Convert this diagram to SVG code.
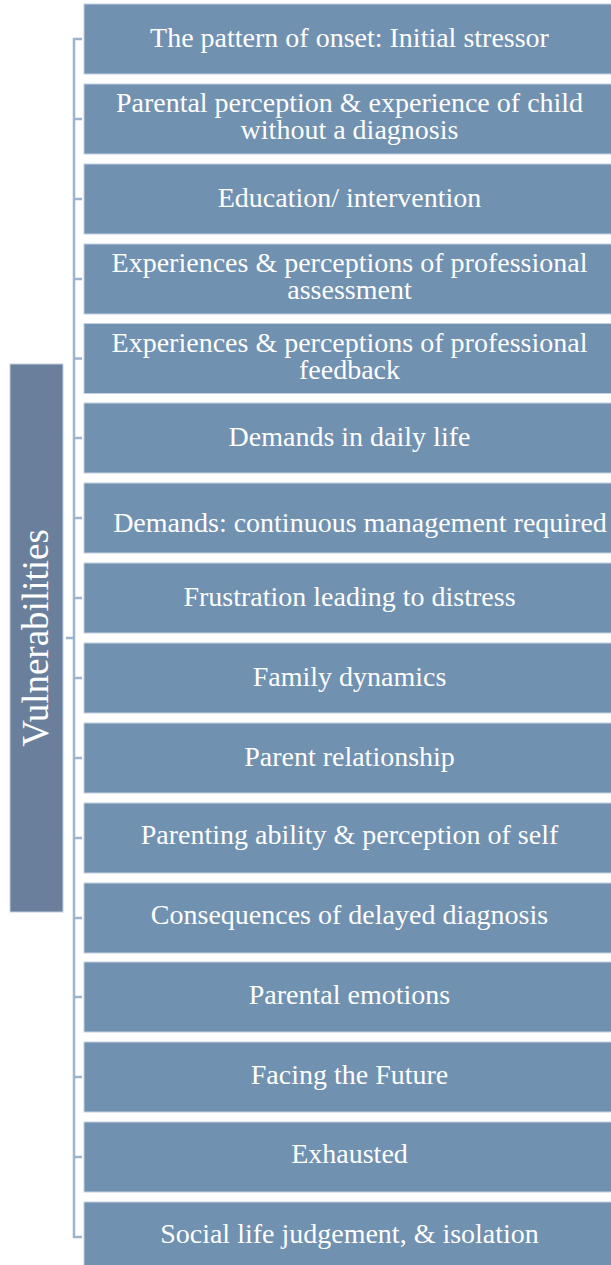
<svg xmlns="http://www.w3.org/2000/svg" width="611" height="1265" viewBox="0 0 611 1265">
<style>
.box{fill:#7191B1;stroke:#C3D0DF;stroke-width:1}
.c{fill:none;stroke:#9DB3CF;stroke-width:2.5}
</style>
<rect width="611" height="1265" fill="#FFFFFF"/>
<g id="connectors">
<path class="c" d="M82,39 H74 V1237 H82"/>
<path class="c" d="M66,638 H74"/>
<path class="c" d="M74,119 H82 M74,199 H82 M74,279 H82 M74,358.5 H82 M74,438 H82 M74,518 H82 M74,598 H82 M74,678 H82 M74,758 H82 M74,838 H82 M74,918 H82 M74,997 H82 M74,1077 H82 M74,1157 H82"/>
</g>
<g id="root">
<rect x="10" y="364" width="53" height="548" fill="#6A7F9C" stroke="#C3D0DF" stroke-width="1"/>
<text transform="translate(48,638) rotate(-90)" font-family="Liberation Serif, serif" font-size="37" fill="#FFFFFF" text-anchor="middle">Vulnerabilities</text>
</g>
<g font-family="Liberation Serif, serif" font-size="28" fill="#FFFFFF" text-anchor="middle">
<g id="n1"><rect class="box" x="84" y="4" width="540" height="70"/><text x="349.5" y="47">The pattern of onset: Initial stressor</text></g>
<g id="n2"><rect class="box" x="84" y="84" width="540" height="70"/><text x="349.5" y="112">Parental perception &amp; experience of child</text><text x="349.5" y="139">without a diagnosis</text></g>
<g id="n3"><rect class="box" x="84" y="164" width="540" height="70"/><text x="349.5" y="207">Education/ intervention</text></g>
<g id="n4"><rect class="box" x="84" y="244" width="540" height="70"/><text x="349.5" y="272">Experiences &amp; perceptions of professional</text><text x="349.5" y="299">assessment</text></g>
<g id="n5"><rect class="box" x="84" y="323.5" width="540" height="70"/><text x="349.5" y="352">Experiences &amp; perceptions of professional</text><text x="349.5" y="379">feedback</text></g>
<g id="n6"><rect class="box" x="84" y="403" width="540" height="70"/><text x="349.5" y="446">Demands in daily life</text></g>
<g id="n7"><rect class="box" x="84" y="483" width="540" height="70"/><text x="360" y="532">Demands: continuous management required</text></g>
<g id="n8"><rect class="box" x="84" y="563" width="540" height="70"/><text x="349.5" y="606">Frustration leading to distress</text></g>
<g id="n9"><rect class="box" x="84" y="643" width="540" height="70"/><text x="349.5" y="686">Family dynamics</text></g>
<g id="n10"><rect class="box" x="84" y="723" width="540" height="70"/><text x="349.5" y="766">Parent relationship</text></g>
<g id="n11"><rect class="box" x="84" y="803" width="540" height="70"/><text x="349.5" y="844">Parenting ability &amp; perception of self</text></g>
<g id="n12"><rect class="box" x="84" y="883" width="540" height="70"/><text x="349.5" y="924">Consequences of delayed diagnosis</text></g>
<g id="n13"><rect class="box" x="84" y="962" width="540" height="70"/><text x="349.5" y="1004">Parental emotions</text></g>
<g id="n14"><rect class="box" x="84" y="1042" width="540" height="70"/><text x="349.5" y="1084">Facing the Future</text></g>
<g id="n15"><rect class="box" x="84" y="1122" width="540" height="70"/><text x="349.5" y="1163">Exhausted</text></g>
<g id="n16"><rect class="box" x="84" y="1202" width="540" height="70"/><text x="349.5" y="1243">Social life judgement, &amp; isolation</text></g>
</g>
</svg>
